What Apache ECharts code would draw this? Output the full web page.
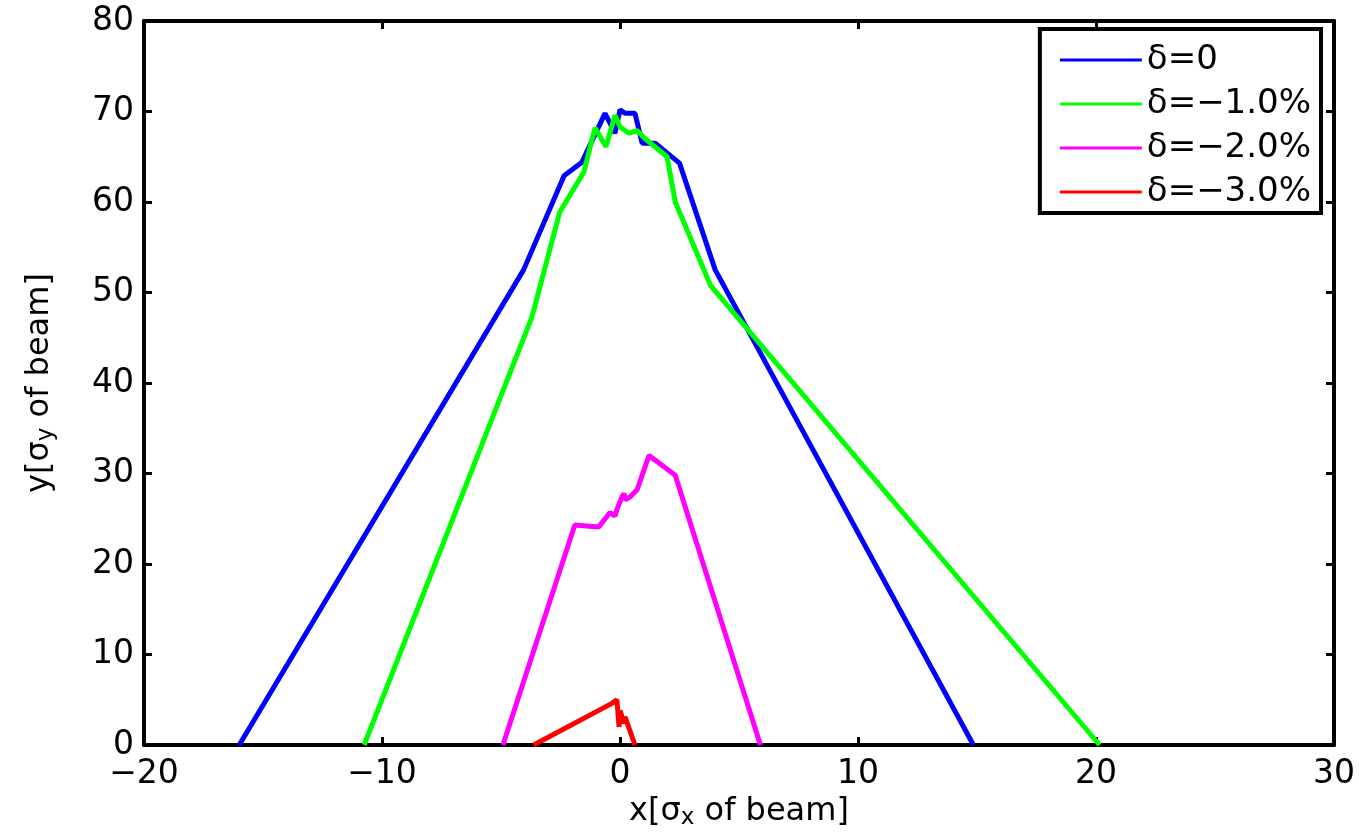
<!DOCTYPE html>
<html>
<head>
<meta charset="utf-8">
<script src="https://cdn.jsdelivr.net/npm/echarts@6/dist/echarts.min.js"></script>
<style>
html,body{margin:0;padding:0;background:#fff;}
#chart{width:1359px;height:832px;}
</style>
</head>
<body>
<div id="chart"></div>
<script>
// values
var names = ['δ=0', 'δ=−1.0%', 'δ=−2.0%', 'δ=−3.0%'];
var colors = ['#0000ff', '#00ff00', '#ff00ff', '#ff0000'];

var d0x = [-16.0, -4.05, -2.35, -1.6, -0.63, -0.21, 0.0, 0.21, 0.63, 0.93, 1.48, 2.5, 4.0, 14.85];
var d0y = [0, 52.5, 62.9, 64.4, 69.8, 67.6, 70.2, 69.8, 69.8, 66.5, 66.5, 64.3, 52.5, 0];

var d1x = [-10.75, -3.7, -2.53, -1.52, -1.05, -0.59, -0.21, 0.0, 0.38, 0.72, 1.05, 1.98, 2.32, 3.8, 20.15];
var d1y = [0, 47.3, 58.9, 63.3, 68.2, 66.1, 69.6, 68.3, 67.6, 67.9, 67.0, 65.0, 60.0, 50.8, 0];

var d2x = [-4.92, -1.9, -0.89, -0.42, -0.21, -0.13, 0.08, 0.17, 0.21, 0.42, 0.72, 1.22, 2.32, 5.9];
var d2y = [0, 24.3, 24.1, 25.7, 25.3, 26.0, 27.4, 27.8, 27.1, 27.4, 28.2, 32.0, 29.8, 0];

var d3x = [-3.63, -0.34, -0.13, -0.04, 0.0, 0.17, 0.21, 0.63];
var d3y = [0, 4.6, 5.0, 2.0, 3.8, 2.4, 3.1, 0];

var xMin = -20, xMax = 30, xStep = 10;
var yMin = 0, yMax = 80, yStep = 10;

function pairs(xs, ys){
	var out = [];
	for(var i = 0; i < xs.length; i++){
		out.push([xs[i], ys[i]]);
	}
	return out;
}

var allX = [d0x, d1x, d2x, d3x];
var allY = [d0y, d1y, d2y, d3y];

var font = '"DejaVu Sans", "Liberation Sans", Arial, sans-serif';

var lineAxis = {show: true, onZero: false, lineStyle: {color: '#000', width: 4}};
var tickIn = {show: true, inside: true, length: 8, lineStyle: {color: '#000', width: 3}};

var nameRich = {
	m: {fontSize: 32, fontFamily: font, color: '#000', lineHeight: 34, verticalAlign: 'top'},
	s: {fontSize: 23, fontFamily: font, color: '#000', lineHeight: 23, verticalAlign: 'bottom', padding: [20, 0, 0, 0]}
};

var series = [];
for(var k = 0; k < names.length; k++){
	series.push({
		name: names[k],
		type: 'line',
		data: pairs(allX[k], allY[k]),
		symbol: 'none',
		animation: false,
		lineStyle: {color: colors[k], width: 5},
		itemStyle: {color: colors[k]}
	});
}

var option = {
	backgroundColor: '#fff',
	animation: false,
	grid: {left: 144, right: 25, top: 21, bottom: 87, containLabel: false, outerBoundsMode: 'none'},
	xAxis: [{
		type: 'value',
		position: 'bottom',
		min: xMin, max: xMax, interval: xStep,
		axisLine: lineAxis,
		axisTick: tickIn,
		splitLine: {show: false},
		axisLabel: {fontSize: 33, fontFamily: font, color: '#000', margin: 13,
			formatter: function(v){ return String(v).replace('-', '−'); }},
		name: '{m|x[σ}{s|x}{m| of beam]}',
		nameLocation: 'middle',
		nameGap: 51,
		nameMoveOverlap: false,
		nameTextStyle: {rich: nameRich}
	}, {
		type: 'value',
		position: 'top',
		min: xMin, max: xMax, interval: xStep,
		axisLine: lineAxis,
		axisTick: tickIn,
		splitLine: {show: false},
		axisLabel: {show: false}
	}],
	yAxis: [{
		type: 'value',
		position: 'left',
		min: yMin, max: yMax, interval: yStep,
		axisLine: lineAxis,
		axisTick: tickIn,
		splitLine: {show: false},
		axisLabel: {fontSize: 33, fontFamily: font, color: '#000', margin: 10},
		name: '{m|y[σ}{s|y}{m| of beam]}',
		nameLocation: 'middle',
		nameGap: 86,
		nameTextStyle: {rich: nameRich}
	}, {
		type: 'value',
		position: 'right',
		min: yMin, max: yMax, interval: yStep,
		axisLine: lineAxis,
		axisTick: tickIn,
		splitLine: {show: false},
		axisLabel: {show: false}
	}],
	legend: {
		orient: 'vertical',
		right: 38,
		top: 29,
		backgroundColor: '#fff',
		borderColor: '#000',
		borderWidth: 4,
		padding: [14, 10, 4, 20],
		itemGap: 10,
		icon: 'rect',
		itemWidth: 82,
		itemHeight: 3,
		itemTextGap: 12,
		textStyle: {fontSize: 34, fontFamily: font, color: '#000', lineHeight: 34},
		data: names
	},
	series: series
};

var chart = echarts.init(document.getElementById('chart'));
chart.setOption(option);
</script>
</body>
</html>
